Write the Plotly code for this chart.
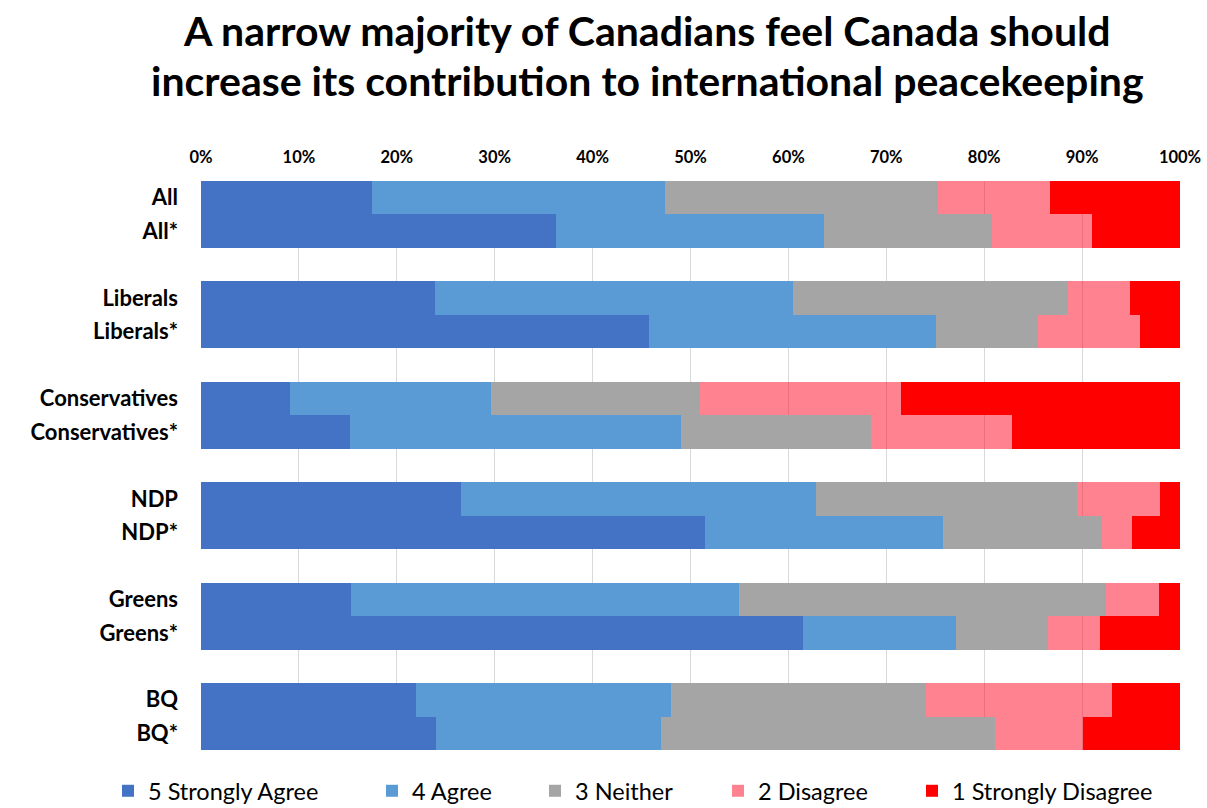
import plotly.graph_objects as go

groups = ["All", "Liberals", "Conservatives", "NDP", "Greens", "BQ"]
row_labels = ["All", "All*", "Liberals", "Liberals*", "Conservatives", "Conservatives*",
              "NDP", "NDP*", "Greens", "Greens*", "BQ", "BQ*"]

strongly_agree = [17.5, 36.3, 23.9, 45.8, 9.1, 15.2, 26.6, 51.5, 15.3, 61.5, 22.0, 24.0]
agree          = [29.9, 27.3, 36.6, 29.3, 20.5, 33.8, 36.2, 24.3, 39.7, 15.6, 26.0, 23.0]
neither        = [27.9, 17.2, 28.1, 10.4, 21.4, 19.4, 26.7, 16.2, 37.4, 9.4, 26.1, 34.1]
disagree       = [11.4, 10.2, 6.3, 10.4, 20.5, 14.4, 8.5, 3.1, 5.5, 5.3, 19.0, 9.0]
strongly_dis   = [13.3, 9.0, 5.1, 4.1, 28.5, 17.2, 2.0, 4.9, 2.1, 8.2, 6.9, 9.9]

series_names = ["5 Strongly Agree", "4 Agree", "3 Neither", "2 Disagree", "1 Strongly Disagree"]
series_vals = [strongly_agree, agree, neither, disagree, strongly_dis]
series_colors = ["#4472C4", "#5B9BD5", "#A5A5A5", "rgba(255,0,30,0.49)", "#FF0000"]

title_lines = ["A narrow majority of Canadians feel Canada should",
               "increase its contribution to international peacekeeping"]

# positions: each group has two adjacent bars followed by an empty slot
positions = []
for gi in range(len(groups)):
    positions += [3 * gi, 3 * gi + 1]

FONT = "Lato"
# layout geometry (page pixels; the body margin is removed so the figure starts at 0,0)
L, T, PW, PH = 201, 181, 979, 569
W, H = 1207, 808
legend_left_px = [108, 372, 535, 718, 912]  # page x of each legend entry
title_center_y_px = [30, 80]                 # page y of each title line's centre


def paper_x(px):
    return (px - L) / PW


def paper_y(py):
    return 1 - (py - T) / PH


fig = go.Figure()
for i, (name, vals, col) in enumerate(zip(series_names, series_vals, series_colors)):
    fig.add_trace(go.Bar(
        x=vals, y=positions, orientation="h", width=1, name=name,
        marker=dict(color=col, line=dict(width=0)),
        legend="legend" if i == 0 else f"legend{i + 1}",
        hovertemplate="%{x:.1f}%<extra>" + name + "</extra>",
    ))

legend_common = dict(orientation="h", xanchor="left", y=paper_y(791), yanchor="middle",
                     font=dict(family=FONT, size=23.5, color="#000000"),
                     bgcolor="rgba(0,0,0,0)")
legends = {}
for i, px in enumerate(legend_left_px):
    key = "legend" if i == 0 else f"legend{i + 1}"
    legends[key] = dict(x=paper_x(px), **legend_common)

annotations = []
for line, cy in zip(title_lines, title_center_y_px):
    annotations.append(dict(
        text="<b>" + line + "</b>", xref="paper", yref="paper",
        x=paper_x(647), xanchor="center", y=paper_y(cy), yanchor="middle",
        showarrow=False, align="center",
        font=dict(family=FONT, size=41, color="#000000"),
    ))

fig.update_layout(
    barmode="stack",
    width=W, height=H,
    margin=dict(l=L, r=W - L - PW, t=T, b=H - T - PH, autoexpand=False),
    paper_bgcolor="white", plot_bgcolor="white",
    font=dict(family=FONT, color="#000000"),
    xaxis=dict(
        range=[0, 100], dtick=10, ticksuffix="%", side="top",
        showgrid=True, gridcolor="#D9D9D9", gridwidth=1,
        zeroline=False, showline=False, ticks="",
        tickfont=dict(family=FONT, size=16.5, color="#000000", weight="bold"),
        ticklabelstandoff=14,
        fixedrange=True,
    ),
    yaxis=dict(
        range=[16.5, -0.5], tickvals=positions, ticktext=row_labels,
        showgrid=False, zeroline=False, showline=False, ticks="",
        tickfont=dict(family=FONT, size=22, color="#000000", weight="bold"),
        ticklabelstandoff=22,
        fixedrange=True,
    ),
    annotations=annotations,
    showlegend=True,
    **legends,
)

fig.write_html(
    "out.html",
    config={"displayModeBar": False},
    post_script="document.body.style.margin='0px';document.body.style.overflow='hidden';",
)
